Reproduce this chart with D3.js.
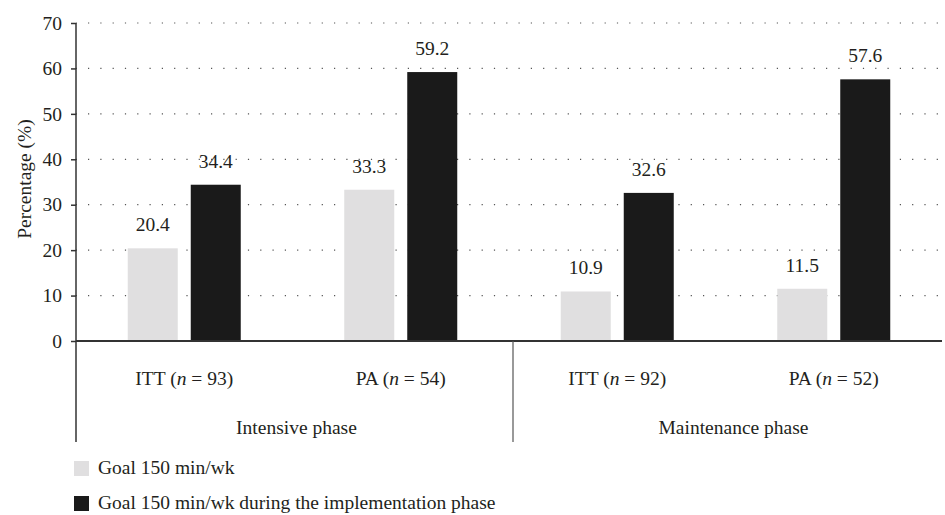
<!DOCTYPE html>
<html>
<head>
<meta charset="utf-8">
<script src="https://cdn.jsdelivr.net/npm/d3@7"></script>
<style>
  body { margin: 0; background: #fff; }
  svg text { font-family: 'Liberation Serif', 'Times New Roman', 'DejaVu Serif', serif !important; }
</style>
</head>
<body>
<div id="chart" style="width:945px;height:515px"></div>
<script>
var categories = ["ITT|93", "PA|54", "ITT|92", "PA|52"];
var phases = ["Intensive phase", "Maintenance phase"];
var seriesNames = ["Goal 150 min/wk", "Goal 150 min/wk during the implementation phase"];
var goalValues = [20.4, 33.3, 10.9, 11.5];
var implValues = [34.4, 59.2, 32.6, 57.6];
var yTicks = [0, 10, 20, 30, 40, 50, 60, 70];
var colours = ["#e0dfe0", "#1a1a1a"];

var textCol = "#231f20";
var fs = "19.5px";

var margin = {top: 23, right: 3, bottom: 174, left: 76},
    width = 945 - margin.left - margin.right,
    height = 515 - margin.top - margin.bottom;

var svg = d3.select("#chart").append("svg")
    .attr("width", 945)
    .attr("height", 515)
  .append("g")
    .attr("transform", "translate(" + margin.left + "," + margin.top + ")");

var x = d3.scaleBand().domain(categories).range([0, width]);
var y = d3.scaleLinear().domain([0, 70]).range([height, 0]);

// dotted gridlines
svg.append("g")
  .selectAll("line")
  .data(yTicks.filter(function(d) { return d > 0; }))
  .enter().append("line")
    .attr("x1", 0).attr("x2", width)
    .attr("y1", function(d) { return y(d); })
    .attr("y2", function(d) { return y(d); })
    .attr("stroke", "#555")
    .attr("stroke-width", 1.2)
    .attr("stroke-dasharray", "1.2,11.1")
    .attr("stroke-dashoffset", -12);

// bars
var barW = 50, gap = 13;
var series = [goalValues, implValues];
series.forEach(function(vals, s) {
  svg.selectAll(".bar" + s)
    .data(vals)
    .enter().append("rect")
      .attr("x", function(d, i) {
        var c = x(categories[i]) + x.bandwidth() / 2;
        return s == 0 ? c - gap / 2 - barW : c + gap / 2;
      })
      .attr("y", function(d) { return y(d); })
      .attr("width", barW)
      .attr("height", function(d) { return height - y(d); })
      .attr("fill", colours[s]);

  svg.selectAll(".lab" + s)
    .data(vals)
    .enter().append("text")
      .attr("x", function(d, i) {
        var c = x(categories[i]) + x.bandwidth() / 2;
        return s == 0 ? c - gap / 2 - barW / 2 : c + gap / 2 + barW / 2;
      })
      .attr("y", function(d) { return y(d) - 17; })
      .attr("text-anchor", "middle")
      .attr("font-size", fs)
      .attr("fill", textCol)
      .text(function(d) { return d.toFixed(1); });
});

// y axis
var yAxis = svg.append("g")
  .call(d3.axisLeft(y).tickValues(yTicks).tickSize(5).tickPadding(9));
yAxis.select(".domain").remove();
yAxis.selectAll("line").attr("stroke", "#333").attr("stroke-width", 1.5);
yAxis.selectAll("text").attr("font-size", fs).attr("fill", textCol);

svg.append("line")
  .attr("x1", 0).attr("x2", 0)
  .attr("y1", 0).attr("y2", height + 101)
  .attr("stroke", "#333").attr("stroke-width", 1.5);

svg.append("line")
  .attr("x1", 0).attr("x2", width)
  .attr("y1", height).attr("y2", height)
  .attr("stroke", "#333").attr("stroke-width", 2);

// phase divider
svg.append("line")
  .attr("x1", x(categories[2]) + 4).attr("x2", x(categories[2]) + 4)
  .attr("y1", height).attr("y2", height + 101)
  .attr("stroke", "#555").attr("stroke-width", 1.2);

// category labels
var cat = svg.selectAll(".cat")
  .data(categories)
  .enter().append("text")
    .attr("x", function(d) { return x(d) + x.bandwidth() / 2; })
    .attr("y", height + 44)
    .attr("text-anchor", "middle")
    .attr("font-size", fs)
    .attr("fill", textCol);
cat.append("tspan").text(function(d) { return d.split("|")[0] + " ("; });
cat.append("tspan").attr("font-style", "italic").text("n");
cat.append("tspan").text(function(d) { return " = " + d.split("|")[1] + ")"; });

svg.selectAll(".phase")
  .data(phases)
  .enter().append("text")
    .attr("x", function(d, i) { return x(categories[i * 2 + 1]) + (i == 0 ? 4 : 8); })
    .attr("y", height + 93)
    .attr("text-anchor", "middle")
    .attr("font-size", fs)
    .attr("fill", textCol)
    .text(function(d) { return d; });

// y label
svg.append("text")
  .attr("transform", "translate(-45," + (height / 2 - 3) + ") rotate(-90)")
  .attr("text-anchor", "middle")
  .attr("font-size", fs)
  .attr("fill", textCol)
  .text("Percentage (%)");

// legend
var leg = svg.selectAll(".leg")
  .data(seriesNames)
  .enter().append("g")
    .attr("transform", function(d, i) { return "translate(-2," + (height + 120 + i * 35) + ")"; });
leg.append("rect")
  .attr("width", 15).attr("height", 15)
  .attr("fill", function(d, i) { return colours[i]; });
leg.append("text")
  .attr("x", 24).attr("y", 13)
  .attr("font-size", fs)
  .attr("fill", textCol)
  .text(function(d) { return d; });
</script>
</body>
</html>
